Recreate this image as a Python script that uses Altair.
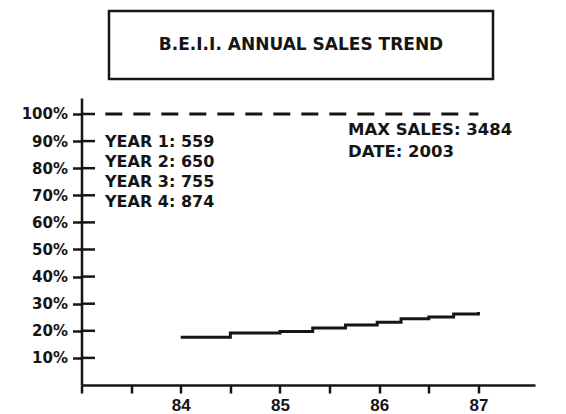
import altair as alt
import pandas as pd

title_text = "B.E.I.I. ANNUAL SALES TREND"

# staircase trend (year, share %)
years = [84, 84.5, 85, 85.33, 85.66, 85.98, 86.22, 86.5, 86.75, 87]
share = [17.6, 19.2, 19.7, 21.0, 22.1, 23.2, 24.4, 25.1, 26.2, 26.9]

year_lines = ["YEAR 1: 559", "YEAR 2: 650", "YEAR 3: 755", "YEAR 4: 874"]
max_lines = ["MAX SALES: 3484", "DATE: 2003"]

y_ticks = [10, 20, 30, 40, 50, 60, 70, 80, 90, 100]
x_ticks = [83, 83.5, 84, 84.5, 85, 85.5, 86, 86.5, 87]

ref_level = [100]
ref_start = [83.24]
ref_end = [87.0]

INK = "#151515"

xscale = alt.Scale(domain=[83, 87.57], nice=False, zero=False)
yscale = alt.Scale(domain=[0, 105.9], nice=False, zero=True)

x_axis = alt.Axis(
    values=x_ticks,
    labelExpr="datum.value >= 84 && datum.value % 1 == 0 ? format(datum.value, 'd') : ''",
    tickSize=8, tickWidth=2.5, tickColor=INK,
    domainWidth=2.5, domainColor=INK,
    grid=False, title=None,
    labelFont="Liberation Sans", labelFontSize=17, labelFontWeight="bold",
    labelColor=INK, labelPadding=4, labelFlush=False, labelOverlap=False,
)
y_axis = alt.Axis(
    values=y_ticks,
    labelExpr="datum.value + '%'",
    tickSize=9, tickWidth=2.5, tickColor=INK,
    domainWidth=2.5, domainColor=INK,
    grid=False, title=None,
    labelFont="DejaVu Sans", labelFontSize=15, labelFontWeight="bold",
    labelColor=INK, labelPadding=5, labelFlush=False, labelOverlap=False,
)

trend = alt.Chart(pd.DataFrame({"year": years, "share": share})).mark_line(
    interpolate="step-after", strokeWidth=3, color=INK
).encode(
    x=alt.X("year:Q", scale=xscale, axis=x_axis),
    y=alt.Y("share:Q", scale=yscale, axis=y_axis),
)

ref = alt.Chart(pd.DataFrame({"year": ref_start, "x2": ref_end, "share": ref_level})).mark_rule(
    strokeDash=[17, 11], strokeWidth=3, color=INK
).encode(
    x=alt.X("year:Q", scale=xscale, axis=x_axis), x2="x2:Q",
    y=alt.Y("share:Q", scale=yscale, axis=y_axis)
)

# inward half of the crossing y ticks
inner_ticks = alt.Chart(pd.DataFrame({"share": y_ticks})).mark_rule(
    strokeWidth=2.5, color=INK
).encode(
    x=alt.datum(83, scale=xscale, axis=x_axis), x2=alt.datum(83.136),
    y=alt.Y("share:Q", scale=yscale, axis=y_axis),
)

one = pd.DataFrame({"a": [0]})

title_box = alt.Chart(one).mark_rect(
    filled=False, stroke=INK, strokeWidth=2.5
).encode(
    x=alt.value(27.5), x2=alt.value(411.5), y=alt.value(-87), y2=alt.value(-19)
)

title_mark = alt.Chart(one).mark_text(
    font="DejaVu Sans", fontSize=17, fontWeight="bold", color=INK,
    align="center", baseline="middle"
).encode(x=alt.value(219.5), y=alt.value(-53.5), text=alt.value(title_text))

year_mark = alt.Chart(one).mark_text(
    font="DejaVu Sans", fontSize=16, fontWeight="bold", color=INK,
    align="left", baseline="top", lineHeight=20
).encode(x=alt.value(23.5), y=alt.value(36), text=alt.value(year_lines))

max_mark = alt.Chart(one).mark_text(
    font="DejaVu Sans", fontSize=16.5, fontWeight="bold", color=INK,
    align="left", baseline="top", lineHeight=22
).encode(x=alt.value(266.5), y=alt.value(24), text=alt.value(max_lines))

chart = alt.layer(
    trend, ref, inner_ticks, title_box, title_mark, year_mark, max_mark
).properties(
    width=453.5, height=287, autosize="none",
    padding={"left": 73.5, "top": 90, "right": 23, "bottom": 29},
    background="white",
).configure_view(strokeWidth=0)

chart.save("out.html", embed_options={"renderer": "svg", "actions": False})
